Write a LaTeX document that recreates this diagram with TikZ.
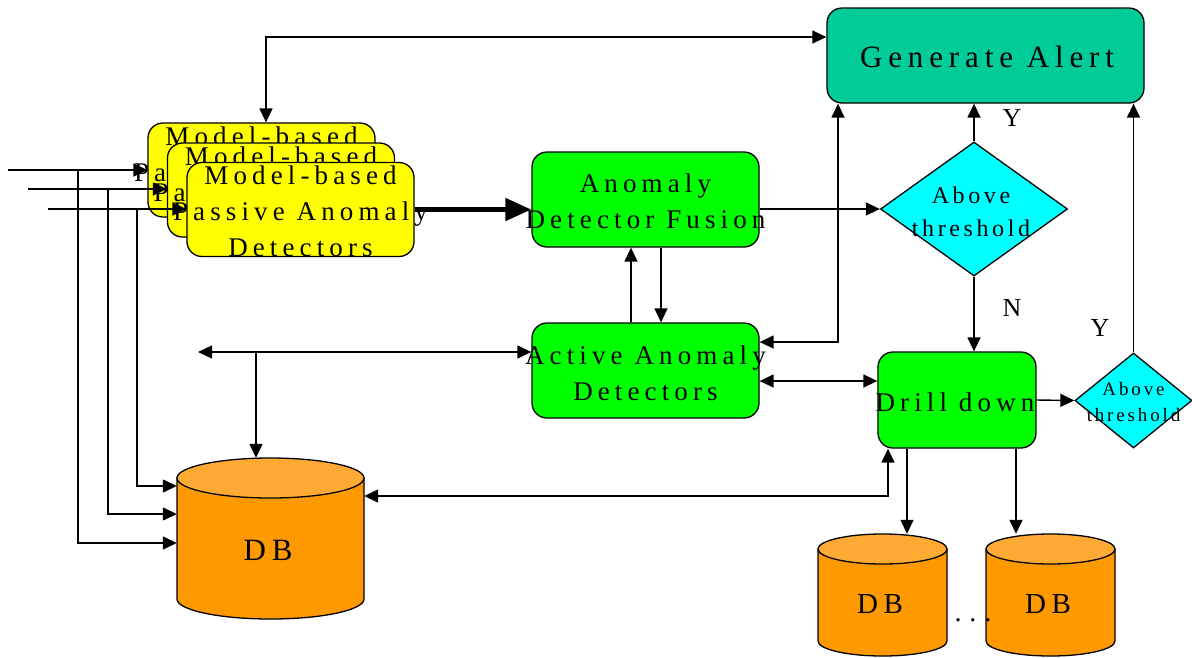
\documentclass[tikz,border=0pt]{standalone}
\usepackage{fontspec}
\setmainfont{Liberation Serif}
\newfontfamily\trk[LetterSpace=19]{Liberation Serif}
\newfontfamily\trks[LetterSpace=15]{Liberation Serif}
\usetikzlibrary{arrows.meta,shapes.geometric,calc}
\definecolor{yel}{HTML}{FFFF00}
\definecolor{grn}{HTML}{00FF00}
\definecolor{cyn}{HTML}{00FFFF}
\definecolor{tea}{HTML}{00CC99}
\definecolor{org}{HTML}{FF9900}
\definecolor{orgtop}{HTML}{FFAA33}
\begin{document}
\begin{tikzpicture}[x=1pt,y=-1pt,
  box/.style={draw, line width=1.3pt, rounded corners=15pt, inner sep=0pt},
  ybox/.style={box, fill=yel, minimum width=227pt, minimum height=94pt},
  gbox/.style={box, fill=grn},
  dia/.style={draw, line width=1.3pt, diamond, fill=cyn, inner sep=0pt},
  txt/.style={font=\trk\fontsize{27}{36}\selectfont, align=center, inner sep=0pt},
  dtxt/.style={font=\trks\fontsize{24}{33}\selectfont, align=center, inner sep=0pt},
  arr/.style={line width=1.4pt, -{Triangle[length=14pt,width=13pt]}},
  dbl/.style={line width=1.4pt, {Triangle[length=14pt,width=13pt]}-{Triangle[length=14pt,width=13pt]}},
  lbl/.style={font=\fontsize{26}{26}\selectfont, inner sep=0pt},
  cyl/.style={draw, line width=1.3pt},
  anch/.style={rectangle, inner sep=0pt},
]
\useasboundingbox (0,0) rectangle (1192,657);

% ---------- Generate Alert
\node[box, fill=tea, minimum width=317pt, minimum height=95pt] (alert) at (985.5,55.5) {};
\node[txt, font=\trk\fontsize{31}{36}\selectfont] (alertt) at (987,57) {Generate Alert};

% ---------- stacked passive detectors
\node[ybox] (p1) at (261.5,170) {};
\node[txt] (p1t) at (261.5,172) {Model-based\\Passive Anomaly\\Detectors};
\node[ybox] (p2) at (281,190) {};
\node[txt] (p2t) at (281,192) {Model-based\\Passive Anomaly\\Detectors};
\node[ybox] (p3) at (300.5,209.5) {};
\node[txt] (p3t) at (300.5,211.5) {Model-based\\Passive Anomaly\\Detectors};

% ---------- green boxes
\node[gbox, minimum width=227pt, minimum height=95pt] (fusion) at (645.5,199.5) {};
\node[txt] (fusiont) at (645.5,201) {Anomaly\\Detector Fusion};
\node[gbox, minimum width=227pt, minimum height=95pt] (active) at (645.5,370.5) {};
\node[txt] (activet) at (645.5,373) {Active Anomaly\\Detectors};
\node[gbox, minimum width=158pt, minimum height=96pt] (drill) at (957,400) {};
\node[txt] (drillt) at (955,402) {Drill down};

% ---------- diamonds
\node[dia, minimum width=187pt, minimum height=134pt] (th1) at (974,209) {};
\node[dtxt] (th1t) at (971,212) {Above\\threshold};
\node[dia, minimum width=117pt, minimum height=95pt] (th2) at (1133.5,400.5) {};
\node[dtxt, font=\trks\fontsize{19}{26}\selectfont] (th2t) at (1133.5,402) {Above\\threshold};

% ---------- databases
\draw[cyl, fill=org] (177,478) -- (177,599) arc[start angle=180, end angle=0, x radius=93.5, y radius=20] -- (364,478) -- cycle;
\draw[cyl, fill=orgtop] (270.5,478) ellipse[x radius=93.5, y radius=20];
\node[anch, minimum width=187pt, minimum height=161pt] (db1) at (270.5,538.5) {};
\node[font=\trk\fontsize{31}{36}\selectfont, inner sep=0pt] (db1t) at (268,550) {DB};

\draw[cyl, fill=org] (818,549) -- (818,641) arc[start angle=180, end angle=0, x radius=64.5, y radius=15] -- (947,549) -- cycle;
\draw[cyl, fill=orgtop] (882.5,549) ellipse[x radius=64.5, y radius=15];
\node[anch, minimum width=129pt, minimum height=122pt] (db2) at (882.5,595) {};
\node[font=\trk\fontsize{29}{36}\selectfont, inner sep=0pt] (db2t) at (880,604) {DB};

\draw[cyl, fill=org] (986,549) -- (986,641) arc[start angle=180, end angle=0, x radius=64.5, y radius=15] -- (1115,549) -- cycle;
\draw[cyl, fill=orgtop] (1050.5,549) ellipse[x radius=64.5, y radius=15];
\node[anch, minimum width=129pt, minimum height=122pt] (db3) at (1050.5,595) {};
\node[font=\trk\fontsize{29}{36}\selectfont, inner sep=0pt] (db3t) at (1048,604) {DB};

\node[font=\fontsize{28}{30}\selectfont, inner sep=0pt] (dots) at (973,620) {.\hspace{8pt}.\hspace{8pt}.};

% ---------- labels
\node[lbl] (y1) at (1012,118) {Y};
\node[lbl] (n1) at (1012,308) {N};
\node[lbl] (y2) at (1100,328) {Y};

% ---------- input lines on the left
\coordinate (in1) at (8,170);
\coordinate (in2) at (28,189);
\coordinate (in3) at (48,209);
\coordinate (b1) at (78,170);
\coordinate (b2) at (108,189);
\coordinate (b3) at (137,209);
\draw[arr] (in1) -- (p1.west);
\draw[arr] (in2) -- (in2 -| p2.west);
\draw[arr] (in3) -- (in3 -| p3.west);
\draw[arr] (b1) |- ([yshift=-4.5pt]db1.west);
\draw[arr] (b2) |- ([yshift=24.5pt]db1.west);
\draw[arr] (b3) |- ([yshift=52.5pt]db1.west);

% ---------- thick arrow
\draw[line width=5pt, -{Triangle[length=26pt,width=22pt]}] (p3.east) -- (p3.east -| fusion.west);

% ---------- connectors
\draw[dbl] ([xshift=4.5pt]p1.north) |- ([yshift=18.5pt]alert.west);
\draw[arr] (th1.west -| fusion.east) -- (th1.west);
\draw[arr] ([xshift=-14.5pt]active.north) -- ([xshift=-14.5pt]fusion.south);
\draw[arr] ([xshift=15.5pt]fusion.south) -- ([xshift=15.5pt]active.north);
\draw[dbl] ([yshift=28.5pt]active.east) -| ([xshift=-147.5pt]alert.south);
\draw[dbl] ([yshift=-10.5pt]active.east) -- ([yshift=-10.5pt]active.east -| drill.west);
\coordinate (lft) at (198,352);
\coordinate (j1) at (256,352);
\draw[dbl] (lft) -- (lft -| active.west);
\draw[arr] (j1) -- (j1 |- db1.north);
\draw[arr] (th1.north) -- (th1.north |- alert.south);
\draw[arr] (th1.south) -- (th1.south |- drill.north);
\draw[arr] (drill.east) -- (th2.west);
\draw[arr] (th2.north) -- (th2.north |- alert.south);
\draw[arr] ([xshift=-50pt]drill.south) -- ([xshift=-50pt]drill.south |- db2.north);
\draw[arr] ([xshift=59pt]drill.south) -- ([xshift=59pt]drill.south |- db3.north);
\draw[dbl] ([yshift=42.5pt]db1.east) -| ([xshift=-69pt]drill.south);
\end{tikzpicture}
\end{document}
